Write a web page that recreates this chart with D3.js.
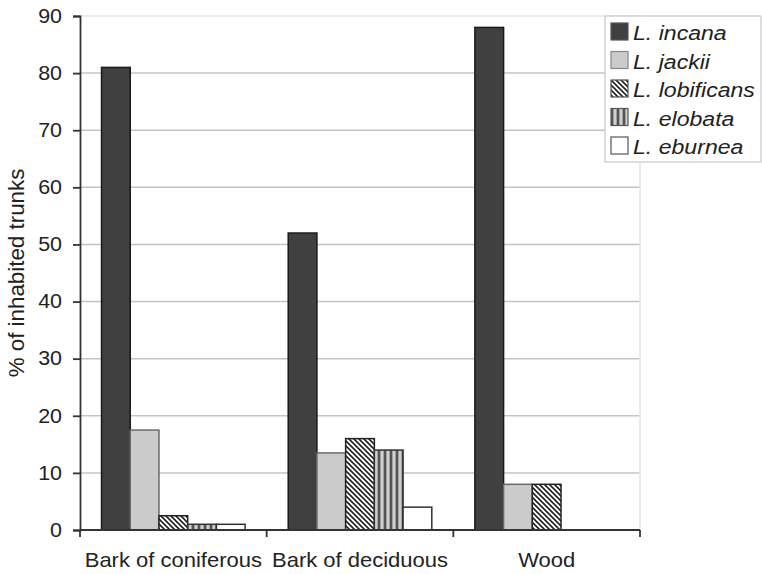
<!DOCTYPE html>
<html><head><meta charset="utf-8">
<script src="https://cdn.jsdelivr.net/npm/d3@7"></script>
<style>body{margin:0;background:#fff}svg{display:block}text{font-family:"Liberation Sans",Arial,sans-serif;fill:#222}</style>
</head><body><div id="c"></div>
<script>
const categories = ["Bark of coniferous", "Bark of deciduous", "Wood"];
const species = ["L. incana", "L. jackii", "L. lobificans", "L. elobata", "L. eburnea"];
const incana = [81, 52, 88];
const jackii = [17.5, 13.5, 8];
const lobificans = [2.5, 16, 8];
const elobata = [1, 14, 0];
const eburnea = [1, 4, 0];
const yTicks = [0, 10, 20, 30, 40, 50, 60, 70, 80, 90];
const seriesValues = [incana, jackii, lobificans, elobata, eburnea];

const W = 762, H = 574;
const m = {left: 80, right: 122, top: 16, bottom: 44};
const SX = 1.1;
const svg = d3.select("#c").append("svg").attr("width", W).attr("height", H);
const defs = svg.append("defs");
const diag = defs.append("pattern").attr("id", "diag").attr("patternUnits", "userSpaceOnUse")
  .attr("width", 5).attr("height", 5);
diag.append("rect").attr("width", 5).attr("height", 5).attr("fill", "#fff");
diag.append("path").attr("d", "M-1,-1 L6,6 M-1,4 L1,6 M4,-1 L6,1").attr("stroke", "#222").attr("stroke-width", 1.6);
const vert = defs.append("pattern").attr("id", "vert").attr("patternUnits", "userSpaceOnUse")
  .attr("width", 6).attr("height", 6);
vert.append("rect").attr("width", 6).attr("height", 6).attr("fill", "#a0a0a0");
vert.append("rect").attr("x", 0).attr("width", 2).attr("height", 6).attr("fill", "#555");
vert.append("rect").attr("x", 3).attr("width", 2).attr("height", 6).attr("fill", "#d0d0d0");

const fills = ["#404040", "#cbcbcb", "url(#diag)", "url(#vert)", "#ffffff"];
const strokes = ["#1a1a1a", "#6a6a6a", "#222", "#333", "#333"];

const x0 = d3.scaleBand().domain(categories).range([m.left, W - m.right]).paddingInner(0).paddingOuter(0);
const x1 = d3.scaleBand().domain(species).range([0, x0.bandwidth()]).paddingInner(0).paddingOuter(0.75);
const y = d3.scaleLinear().domain([0, 90]).range([H - m.bottom, m.top]);

// grid
svg.append("g").selectAll("line").data(yTicks.filter(d => d > 0)).join("line")
  .attr("x1", m.left).attr("x2", W - m.right)
  .attr("y1", d => y(d)).attr("y2", d => y(d))
  .attr("stroke", d => d === 90 ? "#e6e6e6" : "#c4c4c4").attr("stroke-width", 1.5);
svg.append("line").attr("x1", W - m.right).attr("x2", W - m.right)
  .attr("y1", m.top).attr("y2", H - m.bottom).attr("stroke", "#e6e6e6").attr("stroke-width", 1.5);

// bars
const g = svg.append("g");
categories.forEach((c, ci) => {
  species.forEach((s, si) => {
    const v = seriesValues[si][ci];
    if (v <= 0) return;
    g.append("rect")
      .attr("x", x0(c) + x1(s))
      .attr("y", y(v))
      .attr("width", x1.bandwidth())
      .attr("height", y(0) - y(v))
      .attr("fill", fills[si]).attr("stroke", strokes[si]).attr("stroke-width", 1.5);
  });
});

// axes
const yAxis = d3.axisLeft(y).tickValues(yTicks).tickSize(7).tickPadding(0);
const ya = svg.append("g").attr("transform", `translate(${m.left},0)`).call(yAxis);
ya.selectAll("text").style("font-size", "19.5px").attr("fill", "#222")
  .attr("x", null).attr("transform", `translate(-18,0) scale(${SX},1)`);
ya.selectAll("line, path").attr("stroke", "#333").attr("stroke-width", 1.8);

const xa = svg.append("g").attr("transform", `translate(0,${H - m.bottom})`);
xa.append("line").attr("x1", m.left).attr("x2", W - m.right).attr("stroke", "#333").attr("stroke-width", 1.8);
const bounds = categories.map(c => x0(c)).concat([W - m.right]);
xa.selectAll("line.t").data(bounds).join("line").attr("class", "t")
  .attr("x1", d => d).attr("x2", d => d).attr("y1", 0).attr("y2", 7)
  .attr("stroke", "#333").attr("stroke-width", 1.8);
xa.selectAll("text").data(categories).join("text")
  .attr("transform", d => `translate(${x0(d) + x0.bandwidth() / 2},37) scale(${SX},1)`)
  .attr("text-anchor", "middle").style("font-size", "20px").text(d => d);

// y label
svg.append("text").attr("transform", `translate(24,${(m.top + H - m.bottom) / 2}) rotate(-90) scale(1.04,1.05)`)
  .attr("text-anchor", "middle").style("font-size", "21.5px").text("% of inhabited trunks");

// legend
const lg = svg.append("g").attr("transform", "translate(605,16)");
lg.append("rect").attr("width", 156).attr("height", 146).attr("fill", "#fff").attr("stroke", "#c8c8c8").attr("stroke-width", 1.2);
species.forEach((s, i) => {
  const row = lg.append("g").attr("transform", `translate(6,${7 + i * 28.5})`);
  row.append("rect").attr("width", 17).attr("height", 17).attr("fill", fills[i]).attr("stroke", i === 1 ? "#888" : "#555").attr("stroke-width", 1.2);
  row.append("text").attr("transform", `translate(22,17) scale(${SX},1)`)
    .style("font-size", "21px").style("font-style", "italic").text(s);
});
</script></body></html>
